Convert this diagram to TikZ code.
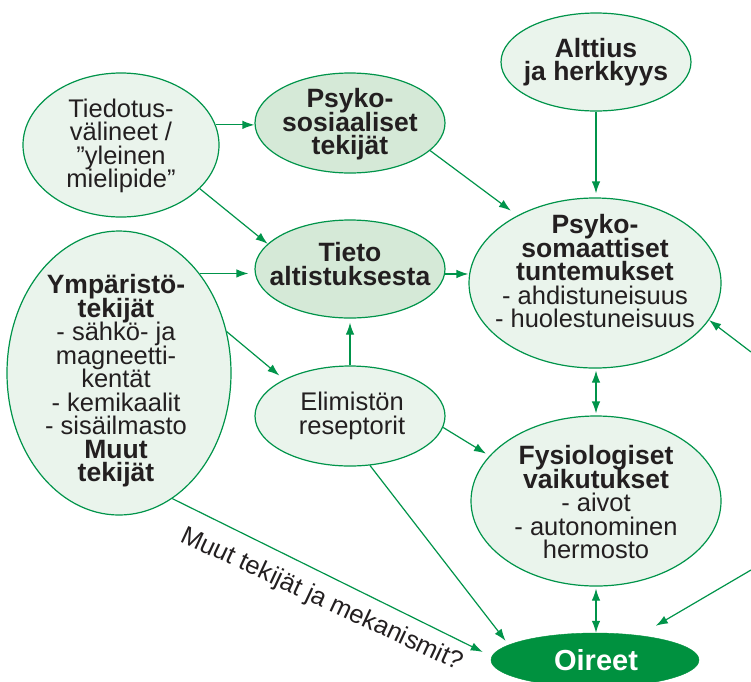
\documentclass[tikz,border=0pt]{standalone}
\usepackage{fontspec}
\setmainfont{Liberation Sans}
\usetikzlibrary{shapes.geometric,arrows.meta}
\definecolor{gline}{HTML}{00944A}
\definecolor{gfill}{HTML}{EAF4EC}
\definecolor{gfilld}{HTML}{D5E9D7}
\definecolor{gdark}{HTML}{00913F}
\definecolor{ink}{HTML}{231F20}
\newcommand\tstr{\rule{0pt}{18pt}}
\newcommand\bstr{\rule[-5pt]{0pt}{5pt}}
\newcommand\hd[1]{{\fontsize{26.5}{23.5}\selectfont\bfseries #1}}
\setlength{\lineskiplimit}{-100pt}
\setlength{\lineskip}{0pt}
\begin{document}
\begin{tikzpicture}[x=1pt,y=-1pt,
  ell/.style={ellipse, draw=gline, line width=1.2pt, fill=gfill, inner sep=0pt},
  elld/.style={ell, fill=gfilld},
  txt/.style={align=center, inner sep=0pt, text=ink, font=\fontsize{25.5}{23.5}\selectfont},
  arr/.style={draw=gline, line width=1.2pt, -{Latex[length=12pt,width=8.5pt]}},
  darr/.style={draw=gline, line width=1.2pt, {Latex[length=12pt,width=8.5pt]}-{Latex[length=12pt,width=8.5pt]}}]
\fill[white] (0,0) rectangle (751,681);
\useasboundingbox (0,0) rectangle (751,681);

\node[ell, minimum width=190pt, minimum height=98pt] (altt) at (596,62) {};
\node[txt] (altt-t) at (596,62) {\tstr\hd{Alttius}\\\hd{ja herkkyys}\bstr};

\node[ell, minimum width=196pt, minimum height=144pt] (tied) at (121,145) {};
\node[txt] (tied-t) at (121,146) {\tstr Tiedotus-\\välineet /\\”yleinen\\mielipide”\bstr};

\node[elld, minimum width=190pt, minimum height=100pt] (psys) at (350,123) {};
\node[txt] (psys-t) at (350,124.5) {\tstr\hd{Psyko-}\\\hd{sosiaaliset}\\\hd{tekijät}\bstr};

\node[elld, minimum width=190pt, minimum height=98pt] (tieto) at (350,269) {};
\node[txt] (tieto-t) at (350,266.5) {\tstr\hd{Tieto}\\\hd{altistuksesta}\bstr};

\node[ell, minimum width=252pt, minimum height=170pt] (psom) at (595,283) {};
\node[txt] (psom-t) at (595,273.5) {\tstr\hd{Psyko-}\\\hd{somaattiset}\\\hd{tuntemukset}\\- ahdistuneisuus\\- huolestuneisuus\bstr};

\node[ell, minimum width=224pt, minimum height=284pt] (ymp) at (119,373) {};
\node[txt] (ymp-t) at (116,381) {\tstr\hd{Ympäristö-}\\\hd{tekijät}\\- sähkö- ja\\magneetti-\\kentät\\- kemikaalit\\- sisäilmasto\\\hd{Muut}\\\hd{tekijät}\bstr};

\node[ell, minimum width=190pt, minimum height=100pt] (elim) at (350,416) {};
\node[txt] (elim-t) at (352,416) {\tstr Elimistön\\reseptorit\bstr};

\node[ell, minimum width=250pt, minimum height=170pt] (fys) at (596,501) {};
\node[txt] (fys-t) at (596,504.5) {\tstr\hd{Fysiologiset}\\\hd{vaikutukset}\\- aivot\\- autonominen\\hermosto\bstr};

\node[ellipse, draw=gdark, fill=gdark, inner sep=0pt, minimum width=208pt, minimum height=54pt] (oir) at (595,660) {};
\node[inner sep=0pt, anchor=base, text=white, font=\fontsize{29}{30}\selectfont\bfseries] (oir-t) at (596,670) {Oireet};

\node[txt, rotate=-25, anchor=base] (lbl) at (319,606) {Muut tekijät ja mekanismit?};

\coordinate (ra) at (751,352);
\coordinate (rb) at (751,570);

\draw[arr] (tied.12) -- (tied.12 -| psys.west);
\draw[arr] (tied.331) -- (tieto.163);
\draw[arr, shorten >=8pt] (psys.341) -- (psom.139);
\draw[arr, shorten >=4pt] (altt.south) -- (altt.south |- psom.north);
\draw[arr] (tieto.357) -- (tieto.357 -| psom.west);
\draw[arr, shorten >=6pt] (ymp.51) -- (ymp.51 -| tieto.west);
\draw[arr, shorten >=6pt] (ymp.21) -- (elim.151);
\draw[arr, shorten >=4pt] (elim.north) -- (tieto.south);
\draw[arr, shorten >=4pt] (elim.353) -- (fys.157);
\draw[arr, shorten >=5pt] (elim.292) -- (oir.170);
\draw[arr, shorten >=10pt] (ymp.293) -- (oir.178);
\draw[darr, shorten <=2pt, shorten >=2pt] (fys.north |- psom.south) -- (fys.north);
\draw[darr, shorten <=2pt] (fys.south) -- (fys.south |- oir.north);
\draw[arr] (ra) -- (psom.342);
\draw[arr, shorten >=19pt] (rb) -- (oir.29);
\end{tikzpicture}
\end{document}
